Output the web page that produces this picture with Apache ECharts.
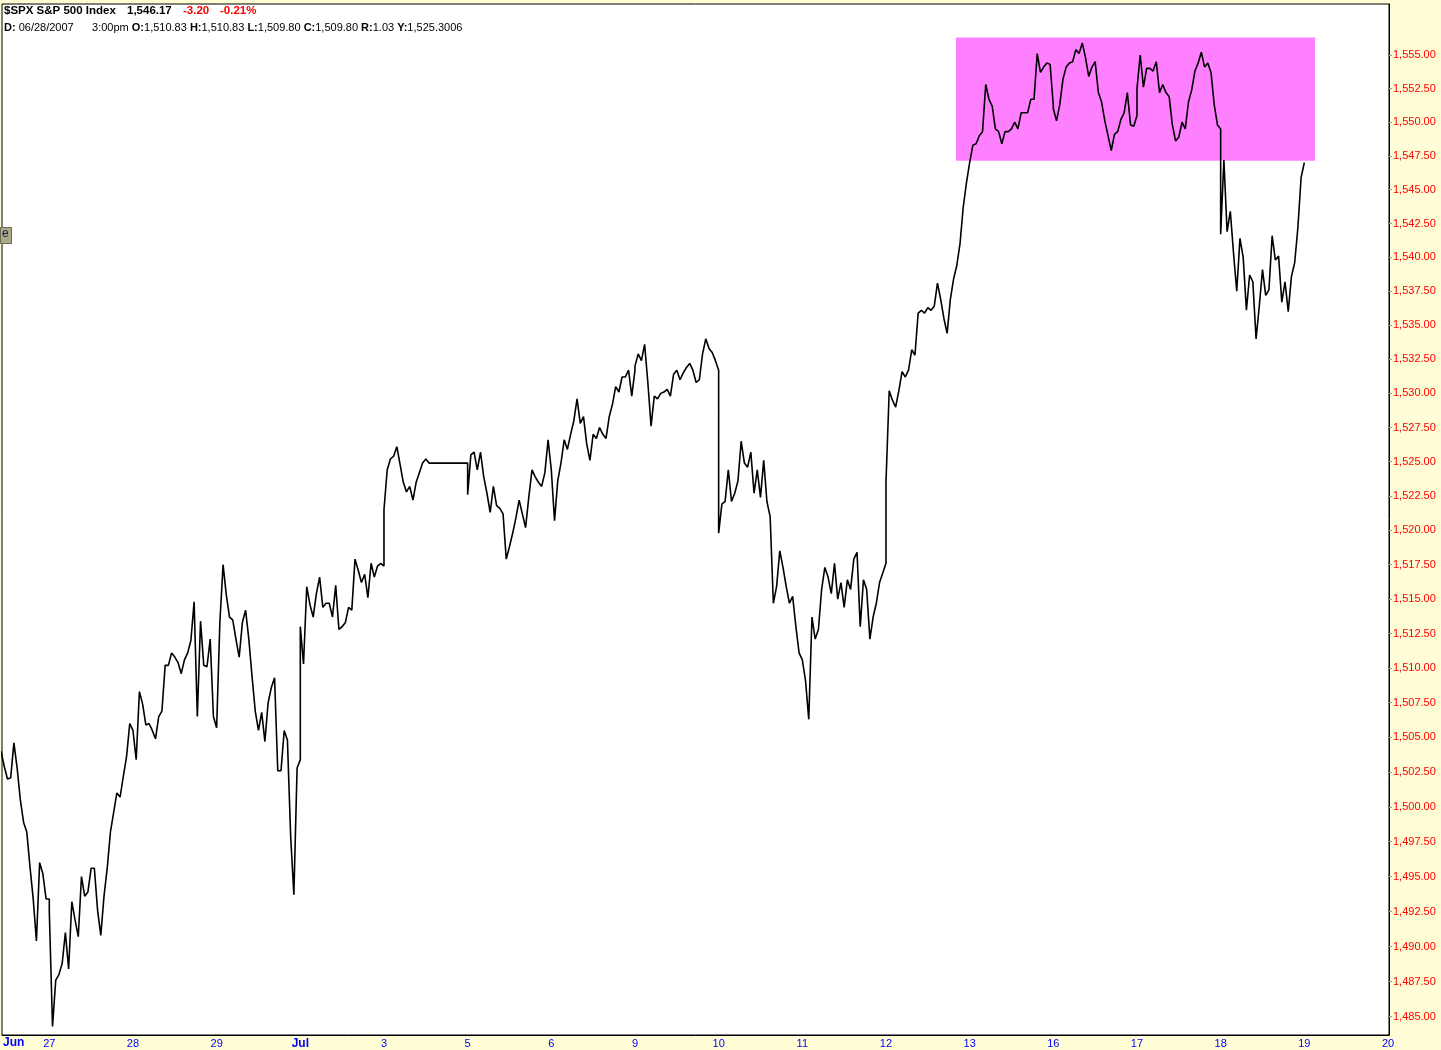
<!DOCTYPE html>
<html>
<head>
<meta charset="utf-8">
<script src="https://cdn.jsdelivr.net/npm/echarts@6/dist/echarts.min.js"></script>
<style>
html,body{margin:0;padding:0;background:#fffdd6;}
#chart{width:1441px;height:1050px;}
</style>
</head>
<body>
<div id="chart"></div>
<script>
// ---- Data: S&P 500 ($SPX) intraday, 15-minute samples (slot 0 = 9:30, slot 26 = 16:00) ----
const slotsPerDay = 26;
// day index: 0 = Jun 26, 1 = Jun 27, ... 15 = Jul 18 (16 = Jul 19, 17 = Jul 20)
const jun26StartSlot = 11;
const jun26 = [1504.0,1502.9,1502.0,1502.1,1504.6,1502.8,1500.5,1498.9,1498.2,1495.7,1493.4,1490.4,1496.0,1495.2,1493.4,1493.4];
const jun27 = [1492.5,1484.3,1487.6,1488.0,1488.8,1491.0,1488.4,1493.2,1491.9,1490.7,1495.0,1493.6,1493.9,1495.6,1495.6,1492.6,1490.8,1493.6,1495.6,1498.2,1499.6,1501.0,1500.7,1502.2,1503.6,1506.0,1505.5];
const jun28 = [1505.5,1503.4,1508.3,1507.4,1505.9,1506.0,1505.5,1504.9,1506.5,1506.9,1510.2,1510.2,1511.1,1510.8,1510.4,1509.6,1510.6,1511.1,1512.0,1514.8,1506.5,1513.4,1510.2,1510.1,1512.1,1506.5,1505.7];
const jun29 = [1505.7,1513.3,1517.5,1515.3,1513.7,1513.5,1512.1,1510.8,1513.3,1514.2,1512.1,1509.4,1506.9,1505.5,1506.8,1504.7,1507.5,1508.6,1509.3,1502.6,1502.6,1505.5,1504.8,1497.9,1493.7,1502.8,1503.4];
const jul02 = [1513.0,1510.3,1515.9,1514.6,1513.7,1515.4,1516.6,1514.4,1514.7,1514.7,1513.7,1516.0,1512.8,1513.0,1513.3,1514.4,1514.2,1517.9,1517.1,1516.2,1516.8,1515.1,1517.6,1516.6,1517.4,1517.6,1517.4];
// half session (closes 13:00), last price held to the end of the day
const jul03 = [1521.5,1524.4,1525.2,1525.4,1526.1,1524.8,1523.5,1522.8,1523.2,1522.2,1523.5,1524.2,1524.9,1525.2,1524.9,1524.9,1524.9,1524.9,1524.9,1524.9,1524.9,1524.9,1524.9,1524.9,1524.9,1524.9,1524.9];
const jul05 = [1522.6,1525.5,1525.7,1524.4,1525.7,1523.9,1522.7,1521.3,1523.2,1521.8,1521.6,1521.2,1517.9,1518.8,1519.8,1520.9,1522.2,1521.2,1520.2,1522.4,1524.4,1523.9,1523.5,1523.2,1524.2,1526.6,1524.4];
const jul06 = [1524.4,1520.7,1523.6,1524.9,1526.6,1525.9,1527.0,1528.0,1529.6,1527.8,1528.3,1526.3,1525.1,1527.0,1526.7,1527.5,1527.0,1526.7,1528.3,1529.2,1530.5,1530.1,1531.2,1531.2,1531.7,1529.8,1531.7];
const jul09 = [1532.0,1532.9,1532.4,1533.6,1530.8,1527.6,1529.8,1529.6,1530.0,1530.1,1530.3,1529.8,1531.4,1531.7,1531.0,1531.5,1531.9,1532.2,1531.7,1530.8,1531.0,1532.9,1534.0,1533.3,1533.0,1532.4,1531.7];
const jul10 = [1519.8,1521.9,1522.1,1524.4,1522.1,1522.7,1523.6,1526.5,1524.9,1524.6,1525.7,1522.7,1524.4,1522.4,1525.1,1522.1,1521.0,1514.7,1515.9,1518.5,1517.3,1515.9,1514.7,1515.2,1513.0,1511.1,1510.6];
const jul11 = [1510.6,1509.1,1506.3,1513.7,1512.1,1512.8,1515.7,1517.3,1516.6,1515.4,1517.6,1515.0,1516.2,1514.4,1516.4,1515.7,1517.9,1518.4,1513.0,1516.4,1515.7,1512.1,1513.7,1514.7,1516.2,1516.9,1517.6];
const jul12 = [1523.5,1530.2,1529.5,1529.0,1530.2,1531.6,1531.2,1531.7,1533.2,1532.8,1535.9,1536.1,1535.9,1536.3,1536.1,1536.4,1538.1,1536.9,1535.5,1534.4,1536.9,1538.4,1539.4,1541.0,1543.7,1545.5,1547.0];
const jul13 = [1547.0,1548.3,1548.4,1549.0,1549.3,1552.8,1551.7,1551.2,1549.5,1549.3,1548.4,1549.3,1549.3,1549.5,1550.0,1549.5,1550.7,1550.7,1550.7,1551.7,1551.7,1555.1,1553.7,1554.1,1554.4,1554.3,1551.2];
const jul16 = [1551.0,1550.1,1551.3,1553.2,1554.1,1554.4,1554.5,1555.4,1555.1,1555.9,1554.8,1553.4,1554.1,1554.5,1552.2,1551.5,1550.1,1549.0,1547.9,1549.1,1549.3,1550.2,1550.7,1552.2,1549.8,1549.7,1550.5];
const jul17 = [1552.5,1555.0,1552.6,1554.0,1554.0,1553.8,1554.5,1552.2,1552.8,1552.2,1551.9,1549.8,1548.6,1548.9,1550.0,1549.5,1551.5,1552.4,1553.8,1554.4,1555.2,1554.1,1554.4,1553.7,1551.3,1549.8,1549.5];
const jul18 = [1541.7,1547.2,1541.9,1543.4,1540.3,1537.5,1541.4,1540.0,1536.1,1538.7,1538.2,1534.0,1536.4,1539.1,1537.2,1537.6,1541.6,1539.8,1540.1,1536.7,1538.2,1536.0,1538.6,1539.6,1542.2,1545.9,1547.0];

// x axis: trading-day index; labels mark the open of each session
const xTickValues = [1,2,3,4,5,6,7,8,9,10,11,12,13,14,15,16,17];
const xTickLabels = ['27','28','29','Jul','3','5','6','9','10','11','12','13','16','17','18','19','20'];
const monthStartLabels = ['Jun','Jul'];
// y axis ticks (log price scale)
const yTickValues = [1485,1487.5,1490,1492.5,1495,1497.5,1500,1502.5,1505,1507.5,1510,1512.5,1515,1517.5,1520,1522.5,1525,1527.5,1530,1532.5,1535,1537.5,1540,1542.5,1545,1547.5,1550,1552.5,1555];
// highlighted zone: from day 11.837 (Jul 12, ~15:00) to day 16.127 (Jul 19, ~10:20), price band
const zoneX = [11.837, 16.127];
const zoneY = [1547.15, 1556.3];

const headerName = '$SPX S&P 500 Index';
const headerLast = '1,546.17';
const headerChange = '-3.20';
const headerPct = '-0.21%';

// ---- Build ----
const sessions = [
  [0, jun26StartSlot, jun26],[1,0,jun27],[2,0,jun28],[3,0,jun29],[4,0,jul02],[5,0,jul03],
  [6,0,jul05],[7,0,jul06],[8,0,jul09],[9,0,jul10],[10,0,jul11],[11,0,jul12],[12,0,jul13],
  [13,0,jul16],[14,0,jul17],[15,0,jul18]
];
const lineData = [];
sessions.forEach(([day, start, arr]) => {
  arr.forEach((v, i) => lineData.push([day + (start + i) / slotsPerDay, v]));
});

const FONT = '"Liberation Sans", Arial, sans-serif';
function fmtPrice(v){
  const s = v.toFixed(2);
  const [a,b] = s.split('.');
  return a.replace(/\B(?=(\d{3})+(?!\d))/g, ',') + '.' + b;
}

const chart = echarts.init(document.getElementById('chart'), null, {renderer:'canvas'});
chart.setOption({
  animation: false,
  backgroundColor: '#fffdd6',
  title: [
    {text: headerName, left: 4, top: 5, padding: 0, textStyle:{fontFamily:FONT, fontSize:11.5, fontWeight:'bold', color:'#000'}},
    {text: headerLast, left: 127, top: 5, padding: 0, textStyle:{fontFamily:FONT, fontSize:11.5, fontWeight:'bold', color:'#000'}},
    {text: headerChange, left: 183, top: 5, padding: 0, textStyle:{fontFamily:FONT, fontSize:11.5, fontWeight:'bold', color:'#ff0000'}},
    {text: headerPct, left: 220, top: 5, padding: 0, textStyle:{fontFamily:FONT, fontSize:11.5, fontWeight:'bold', color:'#ff0000'}},
    {text: '{b|D:} 06/28/2007      3:00pm {b|O:}1,510.83 {b|H:}1,510.83 {b|L:}1,509.80 {b|C:}1,509.80 {b|R:}1.03 {b|Y:}1,525.3006',
     left: 4, top: 22, padding: 0,
     textStyle:{fontFamily:FONT, fontSize:11, fontWeight:'normal', color:'#000',
       rich:{b:{fontFamily:FONT, fontSize:11, fontWeight:'bold', color:'#000'}}}},
    {text: monthStartLabels[0], left: 3, top: 1037, padding: 0, textStyle:{fontFamily:FONT, fontSize:12, fontWeight:'bold', color:'#0000ff'}}
  ],
  grid: {left: 2, right: 52, top: 4, bottom: 15, show: true, backgroundColor: '#ffffff', borderColor: '#000', borderWidth: 1, containLabel: false, outerBoundsMode: 'none'},
  xAxis: {
    type: 'value', min: 0.4347, max: 17.012, position: 'bottom',
    axisLine: {show: true, lineStyle: {color: '#000', width: 1}},
    axisTick: {show: false},
    splitLine: {show: false},
    axisLabel: {
      customValues: xTickValues, margin: 3, color: '#0000ff', fontFamily: FONT, fontSize: 11,
      showMinLabel: true, showMaxLabel: true, hideOverlap: false,
      formatter: (v) => {
        const idx = xTickValues.indexOf(Math.round(v));
        const t = idx >= 0 ? xTickLabels[idx] : '';
        return monthStartLabels.indexOf(t) >= 0 ? '{m|' + t + '}' : t;
      },
      rich: {m: {fontWeight: 'bold', color: '#0000ff', fontFamily: FONT, fontSize: 12}}
    }
  },
  yAxis: {
    type: 'log', logBase: 10, min: 1483.7, max: 1558.8, position: 'right',
    axisLine: {show: true, lineStyle: {color: '#000', width: 1}},
    axisTick: {show: true, length: 3, customValues: yTickValues, lineStyle: {color: '#9a9a9a'}},
    minorTick: {show: false},
    splitLine: {show: false},
    axisLabel: {customValues: yTickValues, margin: 4, color: '#ff0000', fontFamily: FONT, fontSize: 11,
      formatter: (v) => fmtPrice(v), hideOverlap: false}
  },
  graphic: [
    {type: 'rect', left: 0, top: 227, shape: {width: 11, height: 16}, style: {fill: '#aca98b', stroke: '#6b6a55', lineWidth: 1}, z: 100},
    {type: 'text', left: 2, top: 228, style: {text: 'e', font: '12px ' + FONT, fill: '#1a1a40'}, z: 101}
  ],
  series: [
    {
      type: 'line', data: [], z: 1, silent: true,
      markArea: {silent: true, itemStyle: {color: '#ff80ff', opacity: 1},
        data: [[{xAxis: zoneX[0], yAxis: zoneY[1]}, {xAxis: zoneX[1], yAxis: zoneY[0]}]]}
    },
    {
      type: 'line', data: lineData, z: 3, symbol: 'none', showSymbol: false, clip: true,
      lineStyle: {color: '#000', width: 1.6}
    }
  ]
});
</script>
</body>
</html>
